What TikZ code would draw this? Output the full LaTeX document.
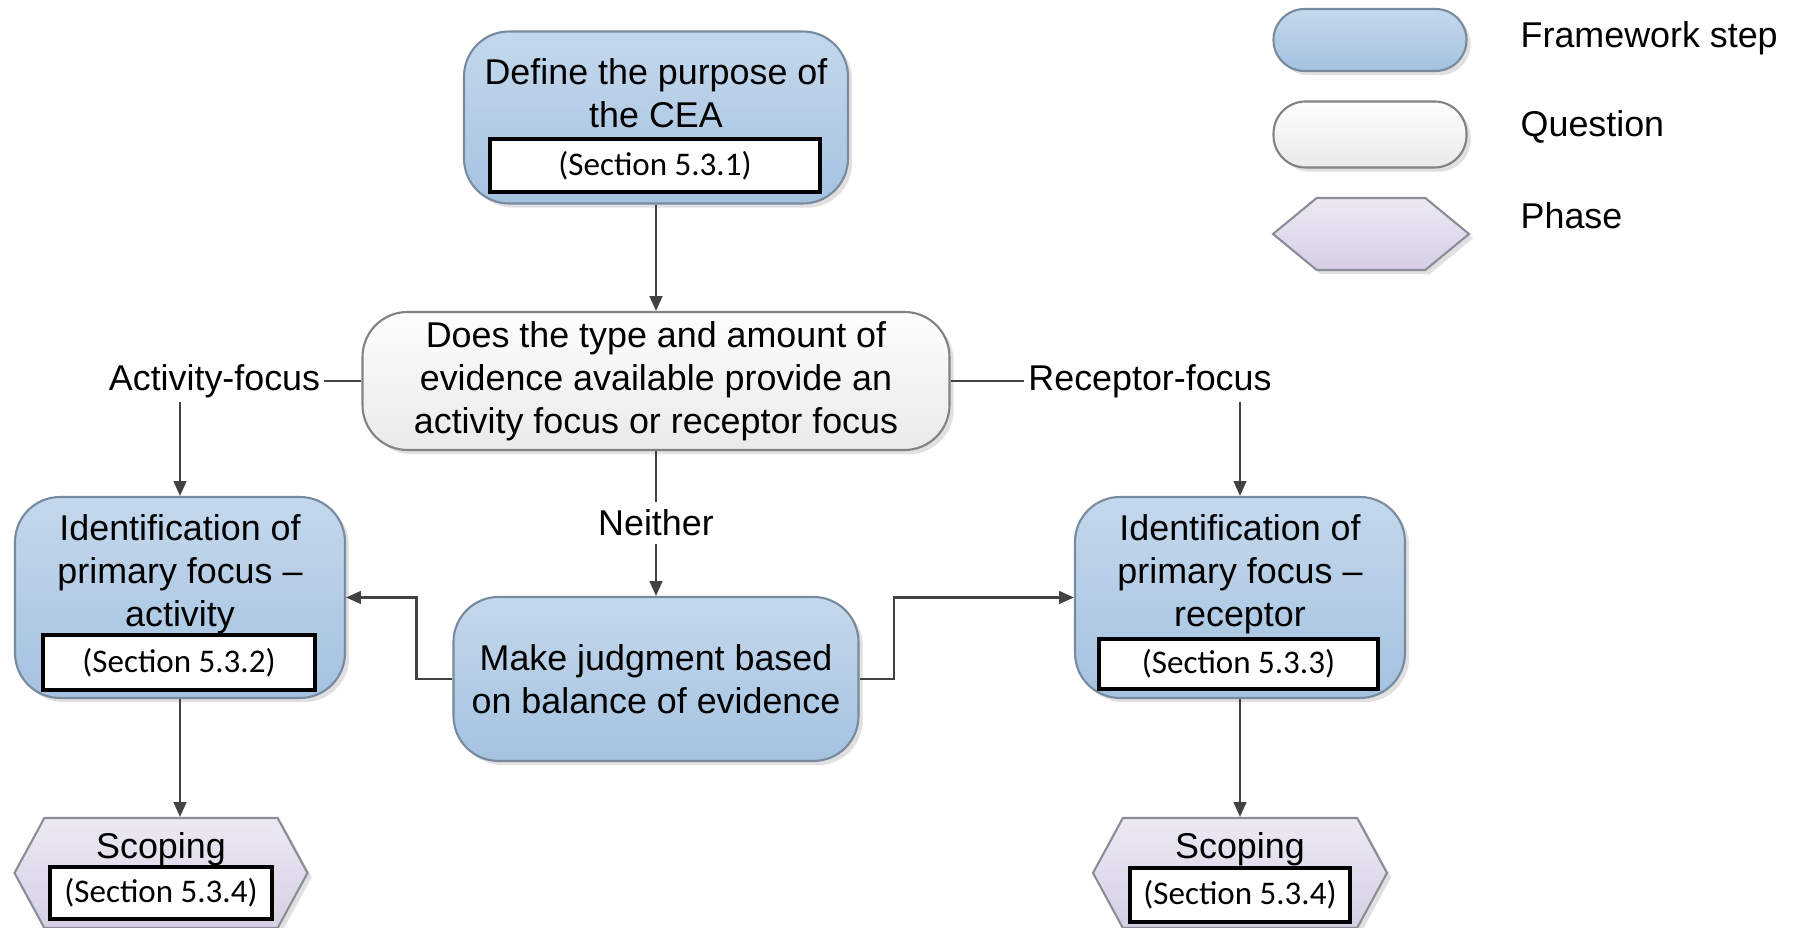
\documentclass[tikz,border=0pt]{standalone}
\usepackage{fontspec}
\setmainfont{Liberation Sans}
\newfontfamily\secfont{Carlito}
\usetikzlibrary{positioning,arrows.meta,shapes.symbols,shadows}

\definecolor{steptop}{RGB}{196,216,236}
\definecolor{stepbot}{RGB}{164,194,224}
\definecolor{stepedge}{RGB}{120,138,158}
\definecolor{questop}{RGB}{253,253,253}
\definecolor{quesbot}{RGB}{234,234,234}
\definecolor{quesedge}{RGB}{130,130,130}
\definecolor{phasetop}{RGB}{236,233,244}
\definecolor{phasebot}{RGB}{214,207,228}
\definecolor{phaseedge}{RGB}{140,140,152}
\definecolor{lineclr}{RGB}{66,66,66}

\begin{document}
\begin{tikzpicture}[
      every node/.style={
        font=\fontsize{10.2}{12.2}\selectfont,
        inner sep=1pt
      },
      fstep/.style={
        rectangle,
        rounded corners=0.45cm,
        draw=stepedge,
        line width=0.6pt,
        top color=steptop,
        bottom color=stepbot,
        drop shadow={shadow xshift=1.2pt, shadow yshift=-1.2pt, fill=black!30, opacity=0.4}
      },
      ques/.style={
        fstep,
        draw=quesedge,
        top color=questop,
        bottom color=quesbot
      },
      phase/.style={
        signal,
        signal to=east and west,
        signal pointer angle=123,
        draw=phaseedge,
        line width=0.6pt,
        top color=phasetop,
        bottom color=phasebot,
        inner sep=0pt,
        drop shadow={shadow xshift=1.2pt, shadow yshift=-1.2pt, fill=black!30, opacity=0.4}
      },
      sect/.style={
        rectangle,
        draw=black,
        line width=0.9pt,
        fill=white,
        inner sep=0pt,
        font=\secfont\fontsize{9.4}{11}\selectfont
      },
      conn/.style={
        draw=lineclr,
        line width=0.6pt
      },
      arr/.style={
        conn,
        -{Triangle[width=3.6pt,length=4.2pt]}
      }
    ]
      \useasboundingbox (0,0) rectangle (18.03,-9.28);

      \node[fstep, minimum width=3.84cm, minimum height=1.72cm] (define) at (6.56,-1.175) {};
      \node[align=center] (defTxt) at (6.56,-0.935) {Define the purpose of\\the CEA};
      \node[sect, minimum width=3.30cm, minimum height=0.53cm] (secDef) at (6.55,-1.655) {(Section 5.3.1)};

      \node[ques, align=center, minimum width=5.87cm, minimum height=1.38cm] (quest) at (6.56,-3.81)
        {Does the type and amount of\\evidence available provide an\\activity focus or receptor focus};

      \node (actLbl) at (2.145,-3.81) {Activity-focus};
      \node (recLbl) at (11.50,-3.81) {Receptor-focus};
      \node[inner sep=0pt, minimum height=0.40cm] (neither) at (6.56,-5.23) {Neither};

      \node[fstep, minimum width=3.30cm, minimum height=2.01cm] (identA) at (1.80,-5.975) {};
      \node[align=center] (identATxt) at (1.80,-5.74) {Identification of\\primary focus –\\activity};
      \node[sect, minimum width=2.72cm, minimum height=0.55cm] (secA) at (1.79,-6.625) {(Section 5.3.2)};

      \node[fstep, minimum width=3.30cm, minimum height=2.01cm] (identR) at (12.40,-5.975) {};
      \node[align=center] (identRTxt) at (12.40,-5.74) {Identification of\\primary focus –\\receptor};
      \node[sect, minimum width=2.79cm, minimum height=0.50cm] (secR) at (12.385,-6.64) {(Section 5.3.3)};

      \node[fstep, align=center, minimum width=4.05cm, minimum height=1.64cm] (make) at (6.56,-6.79)
        {Make judgment based\\on balance of evidence};

      \node[phase, minimum width=2.93cm, minimum height=1.10cm] (scopA) at (1.61,-8.73) {};
      \node (scopATxt) at (1.61,-8.49) {Scoping};
      \node[sect, minimum width=2.22cm, minimum height=0.52cm] (secSA) at (1.61,-8.93) {(Section 5.3.4)};

      \node[phase, minimum width=2.94cm, minimum height=1.10cm] (scopR) at (12.40,-8.73) {};
      \node (scopRTxt) at (12.40,-8.49) {Scoping};
      \node[sect, minimum width=2.20cm, minimum height=0.54cm] (secSR) at (12.40,-8.95) {(Section 5.3.4)};

      \node[fstep, rounded corners=0.31cm, minimum width=1.93cm, minimum height=0.62cm] (legStep) at (13.70,-0.40) {};
      \node[ques, rounded corners=0.32cm, minimum width=1.93cm, minimum height=0.66cm] (legQues) at (13.70,-1.345) {};
      \node[phase, signal pointer angle=79, minimum width=1.96cm, minimum height=0.72cm] (legPhase) at (13.71,-2.34) {};

      \node[anchor=west, inner sep=0pt] (legStepTxt) at (15.20,-0.38) {Framework step};
      \node[anchor=west, inner sep=0pt] (legQuesTxt) at (15.20,-1.265) {Question};
      \node[anchor=west, inner sep=0pt] (legPhaseTxt) at (15.20,-2.16) {Phase};

      \draw[arr] (define) -- (quest);

      \draw[conn] (quest) -- (actLbl);
      \draw[conn] (quest) -- (recLbl);
      \draw[arr] (identA.north |- actLbl.south) -- (identA);
      \draw[arr] (identR.north |- recLbl.south) -- (identR);

      \draw[conn] (quest) -- (neither);
      \draw[arr] (neither) -- (make);

      \draw[arr] (make.west) -- ++(-0.36,0) |- (identA.east);
      \draw[arr] (make.east) -- ++(0.34,0) |- (identR.west);

      \draw[arr] (identA) -- (identA |- scopA.north);
      \draw[arr] (identR) -- (scopR);
    \end{tikzpicture}
\end{document}
